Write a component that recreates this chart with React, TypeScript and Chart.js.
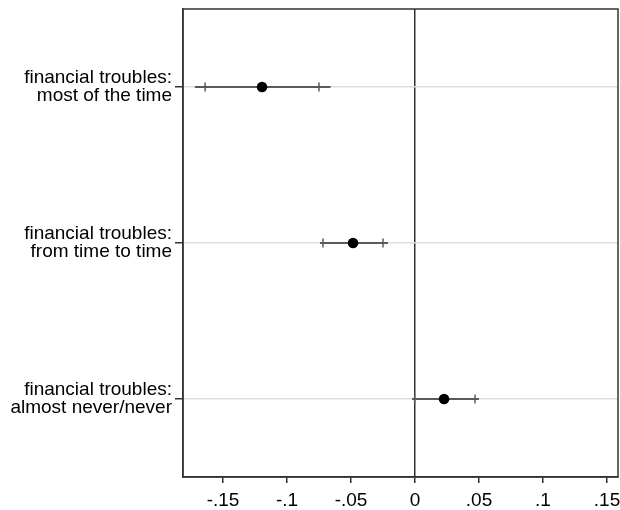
import React, { useEffect, useRef } from "react";
import { Chart, registerables } from "chart.js";

Chart.register(...registerables);

const categories: string[][] = [
  ["financial troubles:", "most of the time"],
  ["financial troubles:", "from time to time"],
  ["financial troubles:", "almost never/never"],
];
const estimates: number[] = [-0.1195, -0.0484, 0.0227];
const outerLow: number[] = [-0.172, -0.0742, -0.0023];
const outerHigh: number[] = [-0.066, -0.0211, 0.05];
const innerLow: number[] = [-0.164, -0.0719, -0.0003];
const innerHigh: number[] = [-0.075, -0.025, 0.0469];
const xTicks: number[] = [-0.15, -0.1, -0.05, 0, 0.05, 0.1, 0.15];
const xTickLabels: string[] = ["-.15", "-.1", "-.05", "0", ".05", ".1", ".15"];
const xMin = -0.18125;
const xMax = 0.15859;

const FONT = "'Liberation Sans', Arial, Helvetica, sans-serif";

export default function App() {
  const ref = useRef<HTMLCanvasElement | null>(null);

  useEffect(() => {
    if (!ref.current) return;

    const rangeSets = categories.map((_, i) => ({
      type: "scatter" as const,
      data: [
        { x: outerLow[i], y: i },
        { x: outerHigh[i], y: i },
      ],
      showLine: true,
      borderColor: "#5a5a5a",
      borderWidth: 2,
      pointRadius: 0,
      order: 3,
    }));

    const capSet = {
      type: "scatter" as const,
      data: categories.flatMap((_, i) => [
        { x: innerLow[i], y: i },
        { x: innerHigh[i], y: i },
      ]),
      pointStyle: "line" as const,
      rotation: 90,
      pointRadius: 4.5,
      borderColor: "#5a5a5a",
      borderWidth: 1.5,
      order: 2,
    };

    const pointSet = {
      type: "scatter" as const,
      data: categories.map((_, i) => ({ x: estimates[i], y: i })),
      pointStyle: "circle" as const,
      pointRadius: 5.3,
      backgroundColor: "#000",
      borderColor: "#000",
      borderWidth: 0,
      order: 1,
    };

    const boxPlugin = {
      id: "box",
      afterDraw(chart: any) {
        const { ctx, chartArea } = chart;
        ctx.save();
        ctx.strokeStyle = "#333";
        ctx.lineWidth = 1.5;
        ctx.strokeRect(
          chartArea.left,
          chartArea.top,
          chartArea.right - chartArea.left,
          chartArea.bottom - chartArea.top
        );
        ctx.restore();
      },
    };

    const chart = new Chart(ref.current, {
      type: "scatter",
      data: { datasets: [pointSet, capSet, ...rangeSets] as any },
      options: {
        animation: false,
        responsive: false,
        layout: { autoPadding: false, padding: { top: 9, right: 2, left: 0, bottom: 0 } },
        plugins: {
          legend: { display: false },
          tooltip: { enabled: false },
        },
        scales: {
          x: {
            type: "linear",
            min: xMin,
            max: xMax,
            afterBuildTicks(scale: any) {
              scale.ticks = xTicks.map((v) => ({ value: v }));
            },
            afterFit(scale: any) {
              scale.height = 33;
              scale.paddingLeft = 0;
              scale.paddingRight = 0;
            },
            ticks: {
              color: "#000",
              font: { family: FONT, size: 19 },
              padding: 6,
              maxRotation: 0,
              autoSkip: false,
              callback: (v: any) => {
                const idx = xTicks.findIndex((t) => Math.abs(t - Number(v)) < 1e-9);
                return idx >= 0 ? xTickLabels[idx] : "";
              },
            },
            grid: {
              drawOnChartArea: true,
              color: (ctx: any) =>
                ctx.tick && Math.abs(ctx.tick.value) < 1e-9 ? "#333" : "rgba(0,0,0,0)",
              lineWidth: 1.5,
              tickColor: "#333",
              tickLength: 6,
            },
            border: { display: true, color: "#333", width: 1.5 },
          },
          y: {
            type: "linear",
            min: -0.5,
            max: 2.5,
            reverse: true,
            afterBuildTicks(scale: any) {
              scale.ticks = categories.map((_, i) => ({ value: i }));
            },
            afterFit(scale: any) {
              scale.width = 183;
              scale.paddingTop = 0;
              scale.paddingBottom = 0;
            },
            ticks: {
              color: "#000",
              font: { family: FONT, size: 19, lineHeight: 0.97 },
              padding: 3,
              autoSkip: false,
              callback: (v: any) => categories[Math.round(Number(v))] ?? "",
            },
            grid: {
              color: "#dedede",
              lineWidth: 1.5,
              tickColor: "#333",
              tickLength: 8,
            },
            border: { display: true, color: "#333", width: 1.5 },
          },
        },
      },
      plugins: [boxPlugin],
    });

    return () => chart.destroy();
  }, []);

  return (
    <div style={{ position: "fixed", left: 0, top: 0, width: 620, height: 510, background: "#fff" }}>
      <canvas ref={ref} width={620} height={510} style={{ width: 620, height: 510 }} />
    </div>
  );
}
